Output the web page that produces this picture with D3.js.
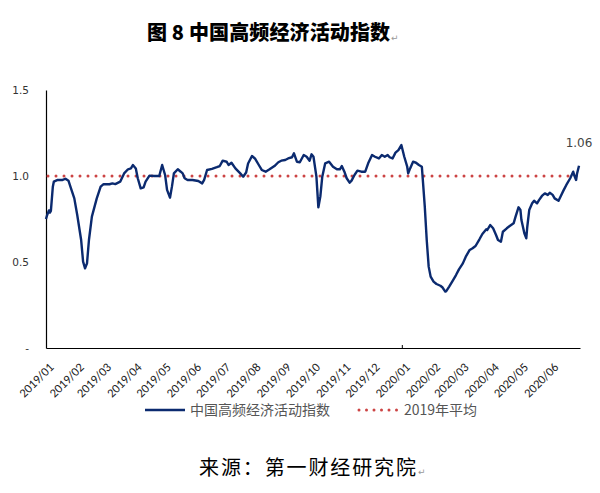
<!DOCTYPE html>
<html><head><meta charset="utf-8">
<script src="https://cdn.jsdelivr.net/npm/d3@7"></script>
<style>body{margin:0;background:#fff}svg{display:block}</style>
</head><body><div id="chart"></div>
<script>
const seriesName = "中国高频经济活动指数";
const avgName = "2019年平均";
const avgValue = 1.0;
const lastLabel = "1.06";
const yTicks = [0, 0.5, 1.0, 1.5];
const yTickLabels = ["-", "0.5", "1.0", "1.5"];
const monthLabels = ["2019/01","2019/02","2019/03","2019/04","2019/05","2019/06","2019/07","2019/08","2019/09","2019/10","2019/11","2019/12","2020/01","2020/02","2020/03","2020/04","2020/05","2020/06"];
const dates = ["2019-01-01","2019-01-02","2019-01-04","2019-01-05","2019-01-06","2019-01-08","2019-01-09","2019-01-13","2019-01-18","2019-01-21","2019-01-24","2019-01-26","2019-01-30","2019-02-02","2019-02-06","2019-02-08","2019-02-10","2019-02-12","2019-02-14","2019-02-17","2019-02-22","2019-02-26","2019-03-01","2019-03-07","2019-03-10","2019-03-13","2019-03-18","2019-03-22","2019-03-26","2019-03-29","2019-03-31","2019-04-03","2019-04-05","2019-04-08","2019-04-11","2019-04-13","2019-04-17","2019-04-22","2019-04-27","2019-04-30","2019-05-03","2019-05-05","2019-05-08","2019-05-10","2019-05-12","2019-05-16","2019-05-19","2019-05-21","2019-05-23","2019-05-26","2019-05-31","2019-06-06","2019-06-10","2019-06-12","2019-06-15","2019-06-20","2019-06-25","2019-06-28","2019-07-01","2019-07-05","2019-07-07","2019-07-10","2019-07-14","2019-07-19","2019-07-22","2019-07-25","2019-07-27","2019-07-31","2019-08-03","2019-08-07","2019-08-10","2019-08-14","2019-08-18","2019-08-23","2019-08-27","2019-08-30","2019-09-03","2019-09-06","2019-09-10","2019-09-12","2019-09-15","2019-09-18","2019-09-22","2019-09-25","2019-09-28","2019-09-30","2019-10-02","2019-10-05","2019-10-07","2019-10-09","2019-10-11","2019-10-14","2019-10-18","2019-10-22","2019-10-26","2019-10-29","2019-10-31","2019-11-03","2019-11-05","2019-11-08","2019-11-10","2019-11-13","2019-11-16","2019-11-20","2019-11-24","2019-11-27","2019-12-01","2019-12-04","2019-12-08","2019-12-11","2019-12-14","2019-12-17","2019-12-19","2019-12-22","2019-12-25","2019-12-28","2019-12-31","2020-01-03","2020-01-06","2020-01-07","2020-01-09","2020-01-12","2020-01-15","2020-01-18","2020-01-21","2020-01-22","2020-01-24","2020-01-26","2020-01-28","2020-01-30","2020-02-02","2020-02-05","2020-02-09","2020-02-11","2020-02-14","2020-02-15","2020-02-18","2020-02-22","2020-02-25","2020-02-28","2020-03-03","2020-03-06","2020-03-10","2020-03-13","2020-03-16","2020-03-20","2020-03-23","2020-03-27","2020-03-28","2020-03-31","2020-04-03","2020-04-06","2020-04-08","2020-04-11","2020-04-13","2020-04-17","2020-04-20","2020-04-24","2020-04-26","2020-04-29","2020-05-01","2020-05-02","2020-05-05","2020-05-07","2020-05-08","2020-05-10","2020-05-13","2020-05-15","2020-05-18","2020-05-20","2020-05-23","2020-05-26","2020-05-29","2020-05-31","2020-06-03","2020-06-05","2020-06-09","2020-06-11","2020-06-14","2020-06-17","2020-06-21","2020-06-24","2020-06-25","2020-06-27","2020-06-28","2020-06-30"];
const values = [0.75,0.77,0.80,0.787,0.797,0.938,0.967,0.977,0.977,0.984,0.973,0.938,0.870,0.773,0.628,0.502,0.463,0.492,0.628,0.764,0.870,0.938,0.953,0.952,0.957,0.953,0.967,1.015,1.039,1.044,1.064,1.044,0.987,0.928,0.934,0.967,1.002,1.0,1.0,1.064,1.006,0.919,0.874,0.938,1.015,1.039,1.025,1.015,0.987,0.977,0.977,0.971,0.957,0.977,1.035,1.041,1.051,1.058,1.089,1.083,1.064,1.077,1.044,1.015,0.996,1.020,1.073,1.116,1.102,1.064,1.035,1.025,1.039,1.058,1.080,1.089,1.093,1.102,1.109,1.132,1.083,1.080,1.122,1.112,1.089,1.126,1.112,0.996,0.818,0.880,0.996,1.074,1.083,1.054,1.039,1.039,1.058,1.020,0.987,0.961,0.973,1.006,1.031,1.025,1.025,1.074,1.122,1.112,1.102,1.122,1.112,1.122,1.109,1.102,1.136,1.151,1.180,1.112,1.054,1.015,1.044,1.083,1.077,1.064,1.054,0.977,0.822,0.628,0.473,0.415,0.386,0.372,0.362,0.353,0.328,0.331,0.357,0.395,0.424,0.457,0.492,0.531,0.570,0.580,0.593,0.632,0.663,0.690,0.686,0.715,0.696,0.657,0.628,0.618,0.676,0.696,0.709,0.725,0.764,0.818,0.802,0.744,0.667,0.638,0.705,0.802,0.841,0.856,0.841,0.860,0.884,0.899,0.890,0.903,0.890,0.870,0.856,0.880,0.915,0.948,0.987,1.025,1.006,0.977,1.015,1.06];

const W = 600, H = 493;
const parse = d3.timeParse("%Y-%m-%d");
const data = dates.map((d, i) => ({date: parse(d), value: values[i]}));
const months = monthLabels.map(m => d3.timeParse("%Y/%m")(m));

const svg = d3.select("#chart").append("svg").attr("width", W).attr("height", H);

const x = d3.scaleTime().domain([parse("2019-01-01"), parse("2020-07-01")]).range([46, 580]);
const y = d3.scaleLinear().domain([0, 1.5]).range([348, 90]);

// title
svg.append("text").attr("x", 147).attr("y", 40)
  .attr("font-family", "Noto Sans CJK SC").attr("font-weight", 900).attr("font-size", 20)
  .attr("textLength", 243).attr("lengthAdjust", "spacing")
  .attr("fill", "#000").text("图 8  中国高频经济活动指数");
svg.append("text").attr("x", 391).attr("y", 41).attr("font-family", "DejaVu Sans")
  .attr("font-size", 9).attr("fill", "#999").text("↵");

// y axis
const yAxis = d3.axisLeft(y).tickValues(yTicks).tickSize(0).tickPadding(0)
  .tickFormat((d, i) => yTickLabels[i]);
const gy = svg.append("g").attr("transform", "translate(46,0)").call(yAxis);
gy.select(".domain").attr("stroke", "#000").attr("stroke-width", 1.2);
gy.selectAll("text").attr("x", -17).attr("font-family", "Verdana, DejaVu Sans").attr("font-size", 10.5).attr("fill", "#333");

// x axis
const xAxis = d3.axisBottom(x).tickValues(months).tickSize(0).tickFormat((d, i) => monthLabels[i]);
const gx = svg.append("g").attr("transform", "translate(0,348)").call(xAxis);
gx.select(".domain").attr("stroke", "#000").attr("stroke-width", 1.2);
gx.selectAll("text")
  .attr("font-family", "Carlito, Calibri, Liberation Sans, Arial").attr("font-size", 12.5).attr("fill", "#222")
  .attr("text-anchor", "end").attr("dy", 0).attr("y", 0)
  .attr("transform", "translate(8,20) rotate(-45)");
// small tick at 2020/01
svg.append("line").attr("x1", x(parse("2020-01-01"))).attr("x2", x(parse("2020-01-01")))
  .attr("y1", 345).attr("y2", 348).attr("stroke", "#000");

// average line
svg.append("line").attr("x1", x(parse("2019-01-01")) + 2).attr("x2", x(parse("2020-06-30")))
  .attr("y1", y(avgValue)).attr("y2", y(avgValue))
  .attr("stroke", "#cc4444").attr("stroke-width", 3).attr("stroke-linecap", "round")
  .attr("stroke-dasharray", "0,8");

// series line
const line = d3.line().x(d => x(d.date)).y(d => y(d.value));
svg.append("path").datum(data).attr("d", line).attr("fill", "none")
  .attr("stroke", "#0b2a6f").attr("stroke-width", 2.4).attr("stroke-linejoin", "round");

// last label
const last = data[data.length - 1];
svg.append("text").attr("x", x(last.date)).attr("y", y(last.value) - 19)
  .attr("text-anchor", "middle").attr("font-family", "Verdana, DejaVu Sans").attr("font-size", 12)
  .attr("fill", "#444").text(lastLabel);

// legend
const lg = svg.append("g");
lg.append("line").attr("x1", 145).attr("x2", 185).attr("y1", 410).attr("y2", 410)
  .attr("stroke", "#0b2a6f").attr("stroke-width", 2.4);
lg.append("text").attr("x", 190).attr("y", 415).attr("font-family", "Noto Sans CJK SC")
  .attr("font-size", 14).attr("fill", "#555").text(seriesName);
lg.append("line").attr("x1", 359).attr("x2", 397).attr("y1", 410).attr("y2", 410)
  .attr("stroke", "#cc4444").attr("stroke-width", 3).attr("stroke-linecap", "round")
  .attr("stroke-dasharray", "0,7.5");
lg.append("text").attr("x", 404).attr("y", 415).attr("font-family", "Noto Sans CJK SC")
  .attr("font-size", 14).attr("fill", "#555").text(avgName);

// source
svg.append("text").attr("x", 199).attr("y", 475).attr("font-family", "Noto Sans CJK SC")
  .attr("font-size", 20).attr("fill", "#000").attr("textLength", 217).text("来源：第一财经研究院");
svg.append("text").attr("x", 418).attr("y", 475).attr("font-family", "DejaVu Sans")
  .attr("font-size", 9).attr("fill", "#999").text("↵");
</script></body></html>
